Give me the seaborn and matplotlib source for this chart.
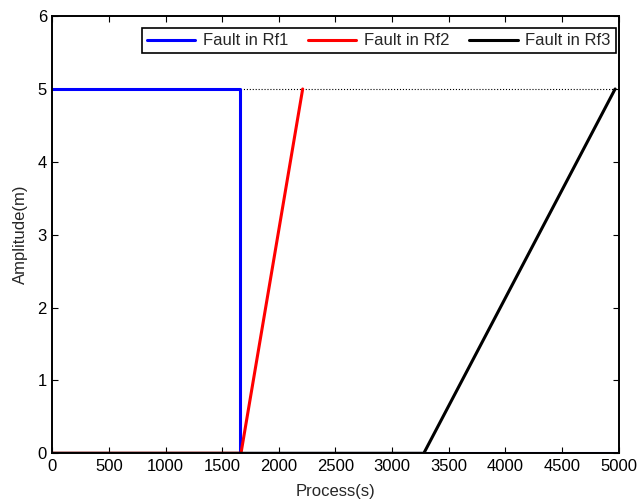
import numpy as np
import pandas as pd
import matplotlib
matplotlib.use("Agg")
import matplotlib.pyplot as plt
import seaborn as sns

# Breakpoints of each fault amplitude profile (time in s, amplitude in m)
rf1_t = [0, 1660, 1660, 5000]
rf1_a = [5, 5, 0, 0]
rf2_t = [0, 1665, 2210]
rf2_a = [0, 0, 5]
rf3_t = [0, 3280, 4970]
rf3_a = [0, 0, 5]
limit_t = [0, 5000]
limit_a = [5, 5]

labels = ["Fault in Rf1", "Fault in Rf2", "Fault in Rf3"]
colors = ["#0000ff", "#ff0000", "#000000"]

sns.set_style("ticks")
plt.rcParams["font.family"] = ["Liberation Sans", "DejaVu Sans"]
plt.rcParams["font.size"] = 12

frames = []
for name, t, a in zip(labels, [rf1_t, rf2_t, rf3_t], [rf1_a, rf2_a, rf3_a]):
    frames.append(pd.DataFrame({"t": t, "a": a, "fault": name, "order": range(len(t))}))
df = pd.concat(frames, ignore_index=True)

fig = plt.figure(figsize=(6.41, 5.04), dpi=100)
ax = fig.add_axes([0.0819, 0.1006, 0.8830, 0.8674])

ax.plot(limit_t, limit_a, color="black", linestyle=":", linewidth=0.8, zorder=1)
sns.lineplot(data=df, x="t", y="a", hue="fault", palette=colors, hue_order=labels,
             sort=False, estimator=None, units="fault", linewidth=2.2, ax=ax, zorder=2)

ax.set_xlim(0, 5000)
ax.set_ylim(0, 6)
ax.set_xticks(np.arange(0, 5001, 500))
ax.set_yticks(np.arange(0, 7, 1))
ax.set_xlabel("Process(s)", labelpad=7)
ax.set_ylabel("Amplitude(m)", labelpad=7)
ax.tick_params(direction="in", length=4, width=0.8, top=True, right=True,
               labelsize=12, colors="black", pad=4)
for s in ax.spines.values():
    s.set_visible(True)
    s.set_linewidth(1.4)
    s.set_color("black")

leg = ax.legend(loc="upper right", ncol=3, frameon=True, fancybox=False,
                edgecolor="black", framealpha=1, fontsize=12,
                handlelength=2.9, columnspacing=1.2, handletextpad=0.45,
                borderaxespad=0.0, borderpad=0.3, bbox_to_anchor=(0.995, 0.972))
leg.get_frame().set_linewidth(1.2)

fig.savefig("out.png", dpi=100)
